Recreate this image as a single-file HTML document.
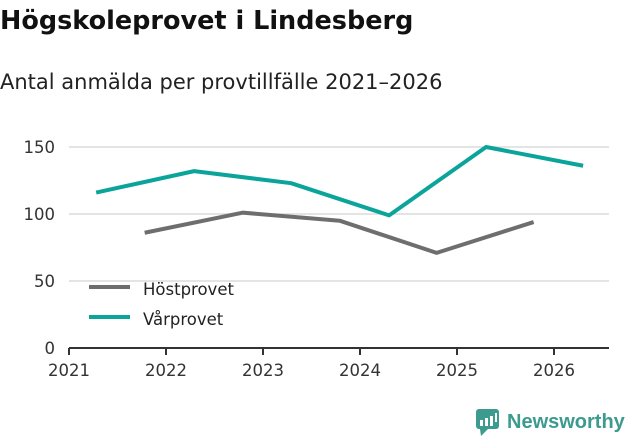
<!DOCTYPE html>
<html><head><meta charset="utf-8"><style>
body{margin:0;background:#fff;width:631px;height:439px;overflow:hidden;font-family:"DejaVu Sans","Liberation Sans",sans-serif;}
</style></head><body>
<svg width="631" height="439" xmlns="http://www.w3.org/2000/svg">
<text x="0" y="29" font-size="25.5" font-weight="bold" fill="#111">Högskoleprovet i Lindesberg</text>
<text x="0" y="89" font-size="21" fill="#222">Antal anmälda per provtillfälle 2021–2026</text>
<g id="grid"></g>
<g id="axes"></g>
<g id="series"></g>
<g>
<g><line x1="89" y1="287" x2="130" y2="287" stroke="#6e6e6e" stroke-width="4"/><text x="143" y="295" font-size="16.5" fill="#222">Höstprovet</text></g>
<g><line x1="89" y1="317" x2="130" y2="317" stroke="#0ba49a" stroke-width="4"/><text x="143" y="325" font-size="16.5" fill="#222">Vårprovet</text></g>
</g>
<g>
<rect x="476" y="409" width="23" height="20" rx="3" fill="#3d9a8f"/>
<polygon points="480,429 488,429 481,436" fill="#3d9a8f"/>
<rect x="480" y="420" width="3" height="6" fill="#fff"/><rect x="485" y="418" width="3" height="8" fill="#fff"/><rect x="490" y="416" width="3" height="10" fill="#fff"/><rect x="495" y="413" width="2" height="9" fill="#fff"/>
<text x="507" y="428" font-size="20" font-weight="bold" fill="#3d9a8f" font-family="Liberation Sans, sans-serif">Newsworthy</text>
</g>
</svg>
<script>
const years=[2021,2022,2023,2024,2025,2026];
const yTicks=[0,50,100,150];
const varX=[2021.28,2022.29,2023.29,2024.3,2025.3,2026.3];
const varVals=[116,132,123,99,150,136];
const hostX=[2021.78,2022.79,2023.79,2024.79,2025.79];
const hostVals=[86,101,95,71,94];
const NS="http://www.w3.org/2000/svg";
function xs(v){return 69+(v-2021)*97;}
function ys(v){return 348-v*1.34;}
const grid=document.getElementById('grid'),axes=document.getElementById('axes'),ser=document.getElementById('series');
function mk(tag,attrs,parent){const e=document.createElementNS(NS,tag);for(const k in attrs)e.setAttribute(k,attrs[k]);parent.appendChild(e);return e;}
yTicks.forEach(t=>{
 if(t>0){const l=mk('line',{x1:69,x2:609,y1:ys(t),y2:ys(t),stroke:'#dcdcdc','stroke-width':1.5},grid);
 
 }
 const tx=mk('text',{x:55,y:ys(t)+6,'font-size':16.5,fill:'#333','text-anchor':'end'},axes);tx.textContent=t;
 
 
});
const ax=mk('line',{x1:69,x2:609,y1:348,y2:348,stroke:'#333','stroke-width':2},axes);


years.forEach(y=>{
 mk('line',{x1:xs(y),x2:xs(y),y1:348,y2:355,stroke:'#333','stroke-width':2},axes);
 const tx=mk('text',{x:xs(y),y:376,'font-size':16.5,fill:'#333','text-anchor':'middle'},axes);tx.textContent=y;
 
 
});
function line(xv,vals,color,name){
 const p=mk('polyline',{points:xv.map((x,i)=>xs(x)+','+ys(vals[i])).join(' '),fill:'none',stroke:color,'stroke-width':4,'stroke-linejoin':'round'},ser);
 
 
}
line(hostX,hostVals,'#6e6e6e','line-hostprovet');
line(varX,varVals,'#0ba49a','line-varprovet');
</script>
</body></html>
